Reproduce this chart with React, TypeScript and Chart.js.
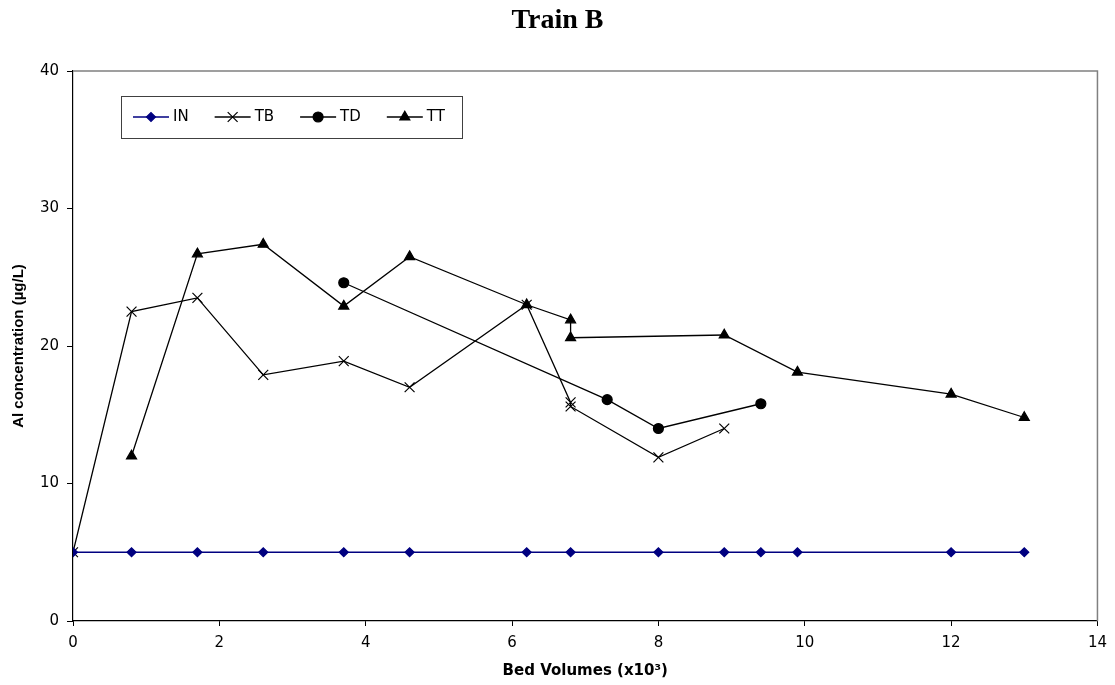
import React, { useEffect, useRef } from 'react';
import { Chart, registerables } from 'chart.js';
import { drawPoint } from 'chart.js/helpers';

Chart.register(...registerables);

// ---- Data ----
const chartTitle = 'Train B';
const xAxisTitle = 'Bed Volumes (x10\u00B3)';
const yAxisTitle = 'Al concentration (\u00B5g/L)';
const seriesNames = ['IN', 'TB', 'TD', 'TT'];

const inX = [0, 0.8, 1.7, 2.6, 3.7, 4.6, 6.2, 6.8, 8, 8.9, 9.4, 9.9, 12, 13];
const inY = [5, 5, 5, 5, 5, 5, 5, 5, 5, 5, 5, 5, 5, 5];

const tbX = [0, 0.8, 1.7, 2.6, 3.7, 4.6, 6.2, 6.8, 6.8, 8, 8.9];
const tbY = [5, 22.5, 23.5, 17.9, 18.9, 17.0, 23.0, 15.9, 15.6, 11.9, 14.0];

const tdX = [3.7, 7.3, 8, 9.4];
const tdY = [24.6, 16.1, 14.0, 15.8];

const ttX = [0.8, 1.7, 2.6, 3.7, 4.6, 6.2, 6.8, 6.8, 8.9, 9.9, 12, 13];
const ttY = [12.0, 26.7, 27.4, 22.9, 26.5, 23.0, 21.9, 20.6, 20.8, 18.1, 16.5, 14.8];

const xTicks = [0, 2, 4, 6, 8, 10, 12, 14];
const yTicks = [0, 10, 20, 30, 40];

const pts = (xs: number[], ys: number[]) => xs.map((x, i) => ({ x, y: ys[i] }));

const TICK_FONT = { family: '"DejaVu Sans", "Liberation Sans", Arial, sans-serif', size: 15 };

const plotFrame = {
  id: 'plotFrame',
  beforeDatasetsDraw(chart: any) {
    const { ctx, chartArea } = chart;
    ctx.save();
    ctx.strokeStyle = '#808080';
    ctx.lineWidth = 1.5;
    ctx.beginPath();
    ctx.moveTo(chartArea.left, chartArea.top);
    ctx.lineTo(chartArea.right, chartArea.top);
    ctx.lineTo(chartArea.right, chartArea.bottom);
    ctx.stroke();
    ctx.restore();
  },
};

const boxLegend = {
  id: 'boxLegend',
  afterDraw(chart: any) {
    const ctx = chart.ctx;
    const left = 121, top = 96, right = 462, bottom = 138;
    const cy = 117;
    ctx.save();
    ctx.fillStyle = '#ffffff';
    ctx.fillRect(left, top, right - left, bottom - top);
    ctx.strokeStyle = '#404040';
    ctx.lineWidth = 1;
    ctx.strokeRect(left + 0.5, top + 0.5, right - left, bottom - top);
    ctx.font = `${TICK_FONT.size}px ${TICK_FONT.family}`;
    ctx.textBaseline = 'middle';
    ctx.textAlign = 'left';
    let x = 133;
    chart.data.datasets.forEach((ds: any) => {
      ctx.strokeStyle = ds.borderColor;
      ctx.lineWidth = ds.borderWidth;
      ctx.beginPath();
      ctx.moveTo(x, cy);
      ctx.lineTo(x + 36, cy);
      ctx.stroke();
      ctx.fillStyle = ds.pointBackgroundColor;
      ctx.strokeStyle = ds.pointBorderColor;
      ctx.lineWidth = ds.pointBorderWidth;
      drawPoint(ctx, { pointStyle: ds.pointStyle, radius: ds.pointRadius, borderWidth: ds.pointBorderWidth, rotation: 0 } as any, x + 18, cy);
      ctx.fillStyle = '#000';
      ctx.fillText(ds.label, x + 40, cy);
      const w = ctx.measureText(ds.label).width;
      x += 40 + w + 26;
    });
    ctx.restore();
  },
};

export default function App() {
  const ref = useRef<HTMLCanvasElement>(null);
  useEffect(() => {
    document.body.style.margin = '0';
    const mk = (label: string, data: any[], color: string, style: string, r: number, lw: number) => ({
      label,
      data,
      borderColor: color,
      backgroundColor: color,
      borderWidth: lw,
      pointStyle: style,
      pointRadius: r,
      pointHoverRadius: r,
      pointBackgroundColor: color,
      pointBorderColor: color,
      pointBorderWidth: 1.2,
      tension: 0,
      fill: false,
      yAxisID: 'y',
    });
    const chart = new Chart(ref.current!, {
      type: 'line',
      data: {
        datasets: [
          mk(seriesNames[0], pts(inX, inY), '#000080', 'rectRot', 4.5, 1.6),
          mk(seriesNames[1], pts(tbX, tbY), '#000000', 'crossRot', 7, 1.3),
          mk(seriesNames[2], pts(tdX, tdY), '#000000', 'circle', 5, 1.3),
          mk(seriesNames[3], pts(ttX, ttY), '#000000', 'triangle', 5.8, 1.3),
        ] as any,
      },
      options: {
        responsive: false,
        animation: false,
        devicePixelRatio: 1,
        events: [],
        layout: { padding: 0 },
        plugins: {
          legend: { display: false },
          tooltip: { enabled: false },
          title: {
            display: true,
            text: chartTitle,
            color: '#000',
            font: { family: '"Liberation Serif", "Times New Roman", serif', size: 28, weight: 'bold' },
            padding: { top: 4, bottom: 33.4 },
          },
        },
        scales: {
          x: {
            type: 'linear',
            min: 0,
            max: 14,
            afterFit: (s: any) => { s.height = 64; },
            afterBuildTicks: (s: any) => { s.ticks = xTicks.map((v) => ({ value: v })); },
            grid: { display: true, drawOnChartArea: false, drawTicks: true, tickLength: 5, color: '#000' },
            border: { display: true, color: '#000', width: 1.2 },
            ticks: { color: '#000', font: TICK_FONT, padding: 8, maxRotation: 0 },
            title: {
              display: true,
              text: xAxisTitle,
              color: '#000',
              font: { family: '"DejaVu Sans", "Liberation Sans", Arial, sans-serif', size: 15, weight: 'bold' },
              padding: { top: 0, bottom: 5 },
            },
          },
          y: {
            type: 'linear',
            position: 'left',
            min: 0,
            max: 40,
            afterFit: (s: any) => { s.width = 73; },
            afterBuildTicks: (s: any) => { s.ticks = yTicks.map((v) => ({ value: v })); },
            grid: { display: true, drawOnChartArea: false, drawTicks: true, tickLength: 6, color: '#000' },
            border: { display: true, color: '#000', width: 1.2 },
            ticks: { color: '#000', font: TICK_FONT, padding: 8 },
            title: {
              display: true,
              text: yAxisTitle,
              color: '#000',
              font: { family: '"Liberation Sans", Arial, sans-serif', size: 15, weight: 'bold' },
              padding: { top: 10, bottom: 0 },
            },
          },
          yRightSpacer: {
            type: 'linear',
            position: 'right',
            min: 0,
            max: 40,
            display: true,
            afterFit: (s: any) => { s.width = 17; },
            grid: { display: false, drawOnChartArea: false, drawTicks: false },
            border: { display: false },
            ticks: { display: false },
            title: { display: false },
          },
        },
      },
      plugins: [plotFrame, boxLegend],
    } as any);
    return () => chart.destroy();
  }, []);
  return (
    <div style={{ width: 1115, height: 685 }}>
      <canvas ref={ref} width={1115} height={685} style={{ display: 'block' }} />
    </div>
  );
}
